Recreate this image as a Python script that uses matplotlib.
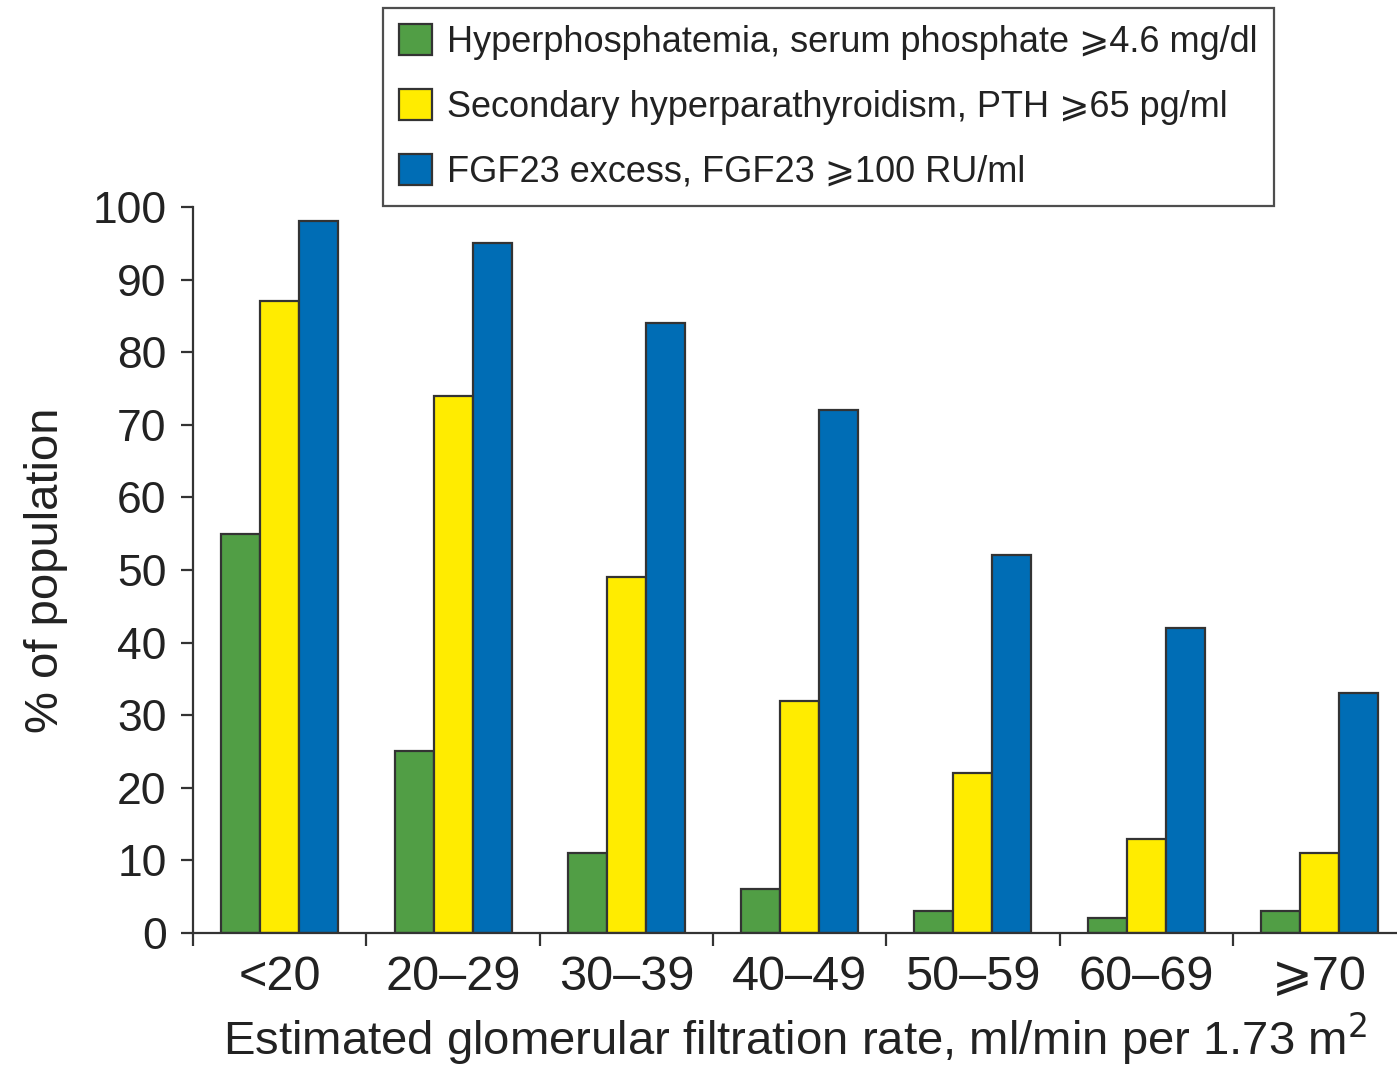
import numpy as np
import matplotlib
matplotlib.use("Agg")
import matplotlib.pyplot as plt

plt.rcParams['font.family'] = ['Liberation Sans', 'DejaVu Sans']

groups = ["<20", "20\u201329", "30\u201339", "40\u201349", "50\u201359", "60\u201369", "\u2a7e70"]
phosphate = [55, 25, 11, 6, 3, 2, 3]
pth = [87, 74, 49, 32, 22, 13, 11]
fgf23 = [98, 95, 84, 72, 52, 42, 33]
labels = ["Hyperphosphatemia, serum phosphate \u2a7e4.6 mg/dl",
          "Secondary hyperparathyroidism, PTH \u2a7e65 pg/ml",
          "FGF23 excess, FGF23 \u2a7e100 RU/ml"]
colors = ["#519E45", "#FFEC00", "#006DB5"]

fig = plt.figure(figsize=(13.97, 10.71), dpi=100)
ax = fig.add_axes([0.1382, 0.1289, 0.8618, 0.6779])

x = np.arange(len(groups))
w = 0.225
for i, (vals, c, lab) in enumerate(zip([phosphate, pth, fgf23], colors, labels)):
    ax.bar(x + (i - 1) * w, vals, w, color=c, edgecolor="#333333",
           linewidth=1.6, label=lab, zorder=2)

ax.set_xlim(-0.5, 6.447)
ax.set_ylim(0, 100)
ax.set_yticks(range(0, 101, 10))
ax.set_xticks(x)
ax.set_xticklabels(groups)
ax.set_xticks(np.arange(-0.5, 6.5, 1), minor=True)

for s in ["top", "right"]:
    ax.spines[s].set_visible(False)
for s in ["left", "bottom"]:
    ax.spines[s].set_linewidth(1.6)
    ax.spines[s].set_color("#333333")

ax.tick_params(axis="y", length=9, width=1.6, color="#333333", pad=10,
               labelsize=32, labelcolor="#222222")
ax.tick_params(axis="x", which="major", length=0, pad=16,
               labelsize=35, labelcolor="#222222")
ax.tick_params(axis="x", which="minor", length=9, width=1.6, color="#333333")

ax.set_ylabel("% of population", fontsize=34, color="#222222", labelpad=18)
ax.set_xlabel("Estimated glomerular filtration rate, ml/min per 1.73 m$^2$",
              fontsize=34, color="#222222", labelpad=7)

leg = ax.legend(loc="upper left", bbox_to_anchor=(383 / 1397, 1 - 8 / 1071),
                bbox_transform=fig.transFigure, fontsize=26, frameon=True,
                fancybox=False, edgecolor="#222222", borderpad=0.45,
                handlelength=0.92, handleheight=0.95, handletextpad=0.4,
                labelspacing=0.8, borderaxespad=0)
leg.get_frame().set_linewidth(1.6)
for t in leg.get_texts():
    t.set_color("#222222")

fig.savefig("out.png", dpi=100)
